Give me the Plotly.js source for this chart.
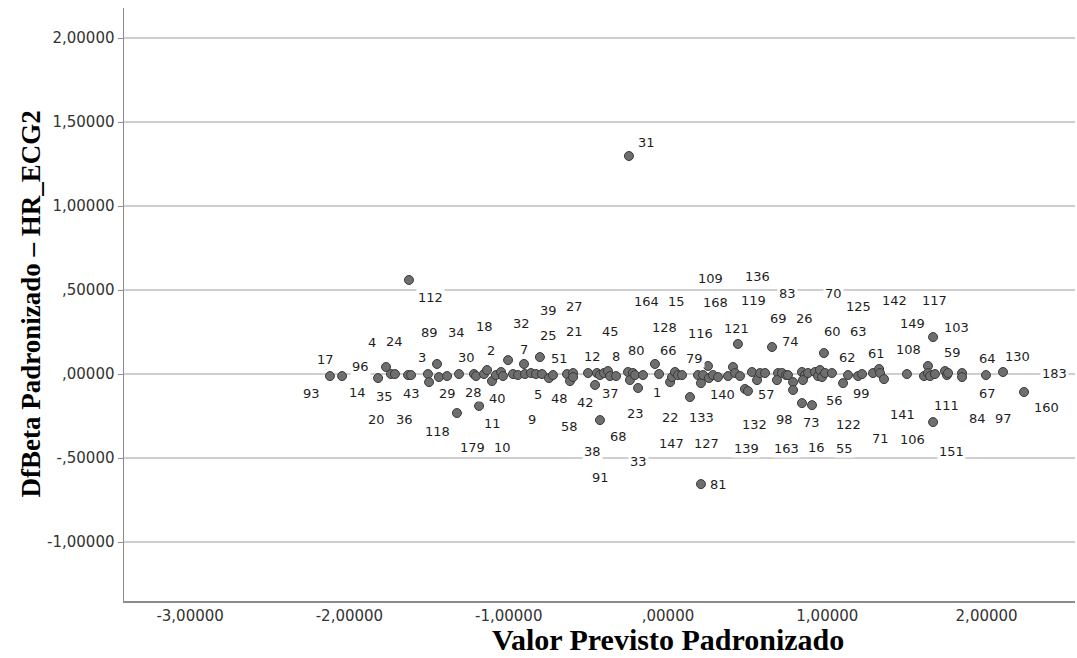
<!DOCTYPE html>
<html>
<head>
<meta charset="utf-8">
<script src="https://cdn.plot.ly/plotly-3.0.1.min.js"></script>
<style>html,body{margin:0;padding:0;background:#fff;}#chart{width:1077px;height:658px;}</style>
</head>
<body>
<div id="chart"></div>
<script>
// Points: standardized predicted value (x) vs standardized DfBeta HR_ECG2 (y)
const pointX = [-2.122,-2.046,-1.820,-1.770,-1.739,-1.714,-1.632,-1.613,-1.626,-1.507,-1.500,-1.450,-1.438,-1.387,-1.312,-1.325,-1.218,-1.205,-1.186,-1.155,-1.136,-1.105,-1.080,-1.048,-1.036,-1.004,-0.973,-0.942,-0.904,-0.898,-0.860,-0.829,-0.804,-0.791,-0.747,-0.722,-0.634,-0.615,-0.596,-0.596,-0.502,-0.458,-0.446,-0.427,-0.427,-0.402,-0.377,-0.364,-0.326,-0.251,-0.239,-0.220,-0.207,-0.188,-0.157,-0.082,-0.056,0.013,0.025,0.044,0.063,0.088,0.138,0.188,0.207,0.220,0.251,0.257,0.282,0.314,0.377,0.408,0.421,0.452,0.439,0.483,0.502,0.527,0.559,0.578,0.609,0.653,0.691,0.684,0.716,0.741,0.753,0.785,0.785,0.841,0.860,0.847,0.841,0.904,0.879,0.923,0.942,0.979,0.954,0.967,0.986,1.029,1.099,1.130,1.193,1.218,1.287,1.325,1.331,1.356,1.500,1.607,1.632,1.632,1.645,1.676,1.664,1.739,1.751,1.758,1.846,1.846,1.996,2.103,2.235,1.664,-0.245,0.207];
const pointY = [-0.012,-0.012,-0.024,0.042,0.000,0.000,-0.006,-0.006,0.560,0.000,-0.048,0.060,-0.018,-0.012,0.000,-0.232,0.000,-0.012,-0.190,0.000,0.024,-0.042,-0.006,0.012,-0.012,0.083,0.000,-0.006,0.060,0.000,0.006,0.000,0.101,0.000,-0.024,-0.006,0.000,-0.042,0.006,-0.018,0.006,-0.065,0.006,-0.006,-0.274,0.006,0.018,-0.012,-0.012,0.012,-0.036,0.006,-0.006,-0.083,-0.006,0.060,0.000,-0.048,-0.018,0.012,-0.006,-0.006,-0.137,-0.006,-0.054,-0.006,0.048,-0.024,-0.006,-0.018,-0.012,0.042,0.006,-0.012,0.179,-0.089,-0.101,0.012,-0.036,0.006,0.006,0.161,0.006,-0.036,0.006,-0.006,-0.006,-0.048,-0.095,0.012,-0.006,-0.036,-0.173,-0.185,0.006,0.012,-0.012,0.125,0.024,-0.018,0.006,0.006,-0.054,-0.006,-0.012,0.000,0.006,0.030,0.006,-0.030,0.000,-0.012,0.048,0.006,-0.012,0.000,0.220,0.018,-0.006,0.006,0.006,-0.018,-0.006,0.012,-0.107,-0.286,1.298,-0.655];

// Case labels and where they sit (data units)
const labelText = ["31","112","109","136","83","70","164","15","168","119","125","142","117","39","27","69","26","60","63","149","103","89","34","18","32","25","21","45","128","116","121","74","4","24","3","30","2","7","51","12","8","80","66","79","62","61","108","59","64","130","17","96","183","93","14","35","43","29","28","40","5","48","42","37","1","140","57","56","99","67","160","20","36","118","11","9","58","23","22","133","132","98","73","122","141","111","84","97","68","179","10","147","127","139","163","16","55","71","106","151","38","33","91","81"];
const labelX = [-0.138,-1.488,0.264,0.559,0.753,1.036,-0.132,0.056,0.301,0.534,1.193,1.425,1.676,-0.753,-0.584,0.691,0.860,1.030,1.199,1.532,1.808,-1.500,-1.325,-1.155,-0.917,-0.753,-0.590,-0.358,-0.019,0.207,0.433,0.766,-1.858,-1.720,-1.544,-1.262,-1.111,-0.904,-0.684,-0.477,-0.326,-0.195,0.006,0.169,1.124,1.312,1.507,1.789,2.003,2.191,-2.147,-1.933,2.429,-2.235,-1.952,-1.777,-1.613,-1.387,-1.224,-1.073,-0.816,-0.684,-0.521,-0.364,-0.069,0.339,0.621,1.048,1.212,2.003,2.373,-1.827,-1.657,-1.450,-1.099,-0.854,-0.621,-0.207,0.013,0.213,0.540,0.734,0.898,1.136,1.475,1.751,1.946,2.103,-0.308,-1.230,-1.042,0.019,0.239,0.490,0.747,0.935,1.111,1.331,1.532,1.777,-0.471,-0.188,-0.421,0.320];
const labelY = [1.381,0.458,0.571,0.583,0.482,0.482,0.429,0.429,0.423,0.435,0.405,0.435,0.440,0.381,0.405,0.333,0.333,0.256,0.256,0.298,0.280,0.250,0.250,0.286,0.298,0.232,0.256,0.256,0.280,0.244,0.274,0.196,0.185,0.196,0.101,0.101,0.143,0.149,0.095,0.107,0.107,0.143,0.143,0.095,0.101,0.125,0.149,0.131,0.095,0.107,0.089,0.042,0.006,-0.113,-0.107,-0.131,-0.113,-0.113,-0.107,-0.143,-0.119,-0.143,-0.167,-0.113,-0.107,-0.119,-0.119,-0.155,-0.113,-0.113,-0.202,-0.268,-0.268,-0.339,-0.292,-0.268,-0.315,-0.232,-0.256,-0.256,-0.298,-0.268,-0.286,-0.298,-0.238,-0.185,-0.262,-0.262,-0.369,-0.435,-0.435,-0.411,-0.411,-0.446,-0.446,-0.435,-0.446,-0.381,-0.387,-0.464,-0.464,-0.518,-0.613,-0.655];

const xTickVals = [-3, -2, -1, 0, 1, 2];
const xTickText = ["-3,00000", "-2,00000", "-1,00000", ",00000", "1,00000", "2,00000"];
const yTickVals = [-1, -0.5, 0, 0.5, 1, 1.5, 2];
const yTickText = ["-1,00000", "-,50000", ",00000", ",50000", "1,00000", "1,50000", "2,00000"];
const xTitle = 'Valor Previsto Padronizado';
const yTitle = 'DfBeta Padronizado – HR_ECG2';

const trace = {
  x: pointX, y: pointY, type: 'scatter', mode: 'markers',
  marker: {size: 9, color: '#6e6e6e', line: {color: '#3a3a3a', width: 1}},
  hoverinfo: 'skip', showlegend: false
};

const annotations = labelText.map((t, i) => ({
  x: labelX[i], y: labelY[i], xref: 'x', yref: 'y', text: t,
  showarrow: false, xanchor: 'center', yanchor: 'middle',
  bgcolor: '#ffffff', borderpad: 1,
  font: {family: 'DejaVu Sans, sans-serif', size: 13, color: '#1e1e1e'}
}));
const titleFont = {family: 'Liberation Serif, Times New Roman, serif', color: '#000000', weight: 'bold'};
// x-axis title, centred under the zero tick as in the reference
annotations.push({
  x: 0, xref: 'x', y: -0.0642, yref: 'paper', text: xTitle,
  showarrow: false, xanchor: 'center', yanchor: 'middle', borderpad: 0,
  font: Object.assign({size: 30}, titleFont)
});
// y-axis title
annotations.push({
  x: -0.0988, xref: 'paper', y: 0.5, yref: 'paper', text: yTitle, textangle: -90,
  showarrow: false, xanchor: 'center', yanchor: 'middle', borderpad: 0,
  font: Object.assign({size: 27}, titleFont)
});

const tickFont = {family: 'DejaVu Sans, sans-serif', size: 15, color: '#333333'};

const layout = {
  width: 1077, height: 658,
  margin: {l: 124, r: 2, t: 8, b: 57, pad: 0},
  paper_bgcolor: '#ffffff', plot_bgcolor: '#ffffff',
  showlegend: false,
  xaxis: {
    range: [-3.415, 2.555], tickvals: xTickVals, ticktext: xTickText,
    showgrid: false, zeroline: false, showline: true, linecolor: '#8c8c8c', linewidth: 1.5,
    ticks: '', tickfont: tickFont,
    automargin: false, fixedrange: true
  },
  yaxis: {
    range: [-1.351, 2.179], tickvals: yTickVals, ticktext: yTickText,
    showgrid: true, gridcolor: '#cfcfcf', gridwidth: 1.5,
    zeroline: false, showline: true, linecolor: '#8c8c8c', linewidth: 1.5,
    ticks: 'outside', ticklen: 5, tickcolor: '#8c8c8c', tickwidth: 1,
    tickfont: tickFont,
    automargin: false, fixedrange: true
  },
  annotations: annotations
};

Plotly.newPlot('chart', [trace], layout, {displayModeBar: false, staticPlot: true});
</script>
</body>
</html>
